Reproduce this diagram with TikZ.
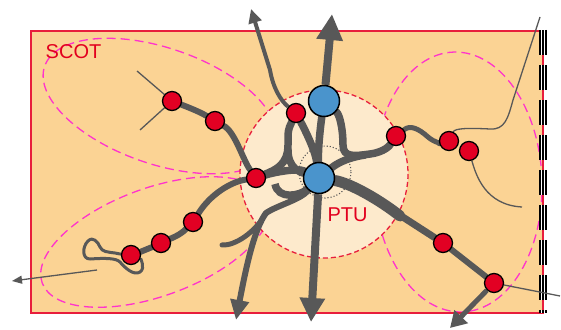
\documentclass[tikz,border=0pt]{standalone}
\usepackage{fontspec}
\setmainfont{Liberation Sans}
\usetikzlibrary{arrows.meta}
\pgfdeclarelayer{back}
\pgfdeclarelayer{mid}
\pgfsetlayers{back,mid,main}
\definecolor{bgor}{RGB}{251,211,148}
\definecolor{ptufill}{RGB}{253,234,204}
\definecolor{borderred}{RGB}{232,30,60}
\definecolor{pinkd}{RGB}{255,51,204}
\definecolor{strandc}{RGB}{88,88,88}
\definecolor{rednode}{RGB}{226,0,35}
\definecolor{bluenode}{RGB}{74,148,204}
\definecolor{labred}{RGB}{226,0,30}
\tikzset{
  rednd/.style={circle, fill=rednode, draw=black, line width=1.3pt, minimum size=19pt, inner sep=0pt},
  bluend/.style={circle, fill=bluenode, draw=black, line width=1.5pt, minimum size=31pt, inner sep=0pt},
  strandline/.style={draw=strandc, line width=7.5pt, line cap=round},
  thinline/.style={draw=strandc, line width=1.3pt},
  pinkell/.style={draw=pinkd, dash pattern=on 9pt off 5pt, line width=1.3pt},
  ptucircle/.style={fill=ptufill, draw=borderred, dash pattern=on 5pt off 3pt, line width=1.3pt},
  lbl/.style={text=labred, font=\fontsize{20}{20}\selectfont, inner sep=0pt},
  stripe/.style={dash pattern=on 25pt off 10pt}
}
\begin{document}
\begin{tikzpicture}[x=1pt,y=-1pt]
\path[use as bounding box] (0,0) rectangle (561,329);
% nodes
\node[bluend] (b1) at (324,101) {};
\node[bluend] (b2) at (319,178) {};
\node[rednd] (r1) at (172,101) {};
\node[rednd] (r2) at (215,121) {};
\node[rednd] (r3) at (296,113) {};
\node[rednd] (r4) at (396,136) {};
\node[rednd] (r5) at (449,141) {};
\node[rednd] (r6) at (469,151) {};
\node[rednd] (r7) at (256,178) {};
\node[rednd] (r8) at (193,222) {};
\node[rednd] (r9) at (161,243) {};
\node[rednd] (r10) at (131,255) {};
\node[rednd] (r11) at (443,243) {};
\node[rednd] (r12) at (494,283) {};
\node[lbl] (scot) at (73.5,51.5) {SCOT};
\node[lbl] (ptu) at (347.5,214.5) {PTU};
\coordinate (upL) at (251,9);
\coordinate (upM) at (332,14);
\coordinate (dnM) at (311,322);
\coordinate (dnL) at (236,320);
\coordinate (dnR) at (450,328);
\coordinate (lfA) at (12,281);
\coordinate (lfS) at (97,270);
\coordinate (t1) at (137,71);
\coordinate (t2) at (140,130);
\coordinate (t3) at (540,17);
\coordinate (t4) at (522,207);
\coordinate (t5) at (560,296);
\coordinate (stub) at (222,245);
\coordinate (hook) at (275,184);

\begin{pgfonlayer}{back}
\fill[bgor] (31,31) rectangle (543,313);
\draw[pinkell, rotate around={-19:(160,106)}] (160,106) ellipse [x radius=122, y radius=58];
\draw[pinkell, rotate around={20:(155,242)}] (155,242) ellipse [x radius=120, y radius=54];
\draw[pinkell, rotate around={2:(458,182)}] (458,182) ellipse [x radius=84, y radius=130];
\draw[ptucircle] (324,174) circle [radius=84];
\draw[strandc, dotted, line width=1.1pt] (325,172) circle [radius=26];
\draw[borderred, line width=1.5pt] (31,31) rectangle (543,313);
\draw[black, line width=8pt, stripe] (543,30) -- (543,313);
\draw[white, line width=1pt, stripe] (541.3,30) -- (541.3,313);
\draw[white, line width=1pt, stripe] (544.7,30) -- (544.7,313);
\end{pgfonlayer}

\begin{pgfonlayer}{mid}
% thin lines
\draw[thinline] (t1) -- (r1);
\draw[thinline] (t2) -- (r1);
\draw[thinline] (r5) .. controls (455,128) and (470,128) .. (490,129) .. controls (505,130) and (508,118) .. (513,100) -- (t3);
\draw[thinline] (r6) .. controls (476,175) and (485,205) .. (t4);
\draw[thinline] (r12) -- (t5);
\draw[thinline, -{Triangle[length=10pt,width=8pt]}] (lfS) -- (lfA);
% squiggle
\draw[strandc, line width=3pt, line join=round] (r10) .. controls (140,258) and (146,268) .. (140,272)
  .. controls (134,276) and (125,268) .. (120,262) .. controls (116,258) and (105,258) .. (90,259)
  .. controls (82,259) and (82,247) .. (88,241) .. controls (93,236) and (98,242) .. (100,247)
  .. controls (102,252) and (108,252) .. (115,253) .. controls (120,254) .. (r10);
% left chains
\draw[strandline, line width=6pt] (r1) .. controls (190,108) and (200,112) .. (r2)
  .. controls (235,132) and (243,160) .. (r7);
\draw[strandline, line width=6pt] (r7) .. controls (230,182) and (210,195) .. (r8)
  .. controls (180,235) and (172,238) .. (r9) .. controls (150,248) and (140,252) .. (r10);
% central knot
\draw[strandline] (r7) .. controls (275,172) and (298,168) .. (b2);
\draw[strandline] (r7) .. controls (275,170) and (288,165) .. (288,145) .. controls (288,130) .. (r3);
\draw[strandline] (288,150) .. controls (288,168) and (300,172) .. (b2);
\draw[strandline] (r3) .. controls (305,130) and (315,150) .. (b2);
\draw[strandline] (b1) .. controls (320,130) and (318,150) .. (b2);
\draw[strandline] (b1) .. controls (340,115) and (343,130) .. (343,145)
  .. controls (343,158) and (355,156) .. (370,154) .. controls (385,152) and (390,145) .. (r4);
\draw[strandline] (b2) .. controls (335,165) and (345,158) .. (365,155);
\draw[strandline, line cap=butt] (b2) .. controls (300,196) and (278,200) .. (hook);
\draw[strandline, line width=5pt] (r4) .. controls (410,125) and (418,128) .. (428,137)
  .. controls (435,143) and (442,143) .. (r5);
% right chain
\draw[strandline, line width=11pt] (b2) .. controls (350,183) and (380,200) .. (400,216);
\draw[strandline, line width=7pt] (395,212) -- (r11);
\draw[strandline, line width=6pt] (r11) -- (r12);
\draw[strandline, line width=5pt, line cap=butt, -{Triangle[length=16pt,width=18pt]}] (r12) -- (dnR);
% lower left
\draw[strandline, line width=6pt] (b2) .. controls (300,200) and (278,205) .. (266,213);
\draw[strandline, line width=6pt, line cap=butt, -{Triangle[length=20pt,width=18pt]}] (266,213) .. controls (255,228) and (247,262) .. (dnL);
\draw[strandline, line width=5pt] (264,216) .. controls (255,232) and (235,246) .. (stub);
% arrows up / down
\draw[strandline, line width=4pt, line cap=butt, -{Triangle[length=14pt,width=13pt]}] (r3) .. controls (281,101) and (273,88) .. (270,70) -- (upL);
\draw[strandline, line width=8pt, line cap=butt, -{Triangle[length=26pt,width=25pt]}] (b1) -- (upM);
\draw[strandline, line width=8pt, line cap=butt, -{Triangle[length=24pt,width=24pt]}] (b2) -- (dnM);
\end{pgfonlayer}
\end{tikzpicture}
\end{document}
